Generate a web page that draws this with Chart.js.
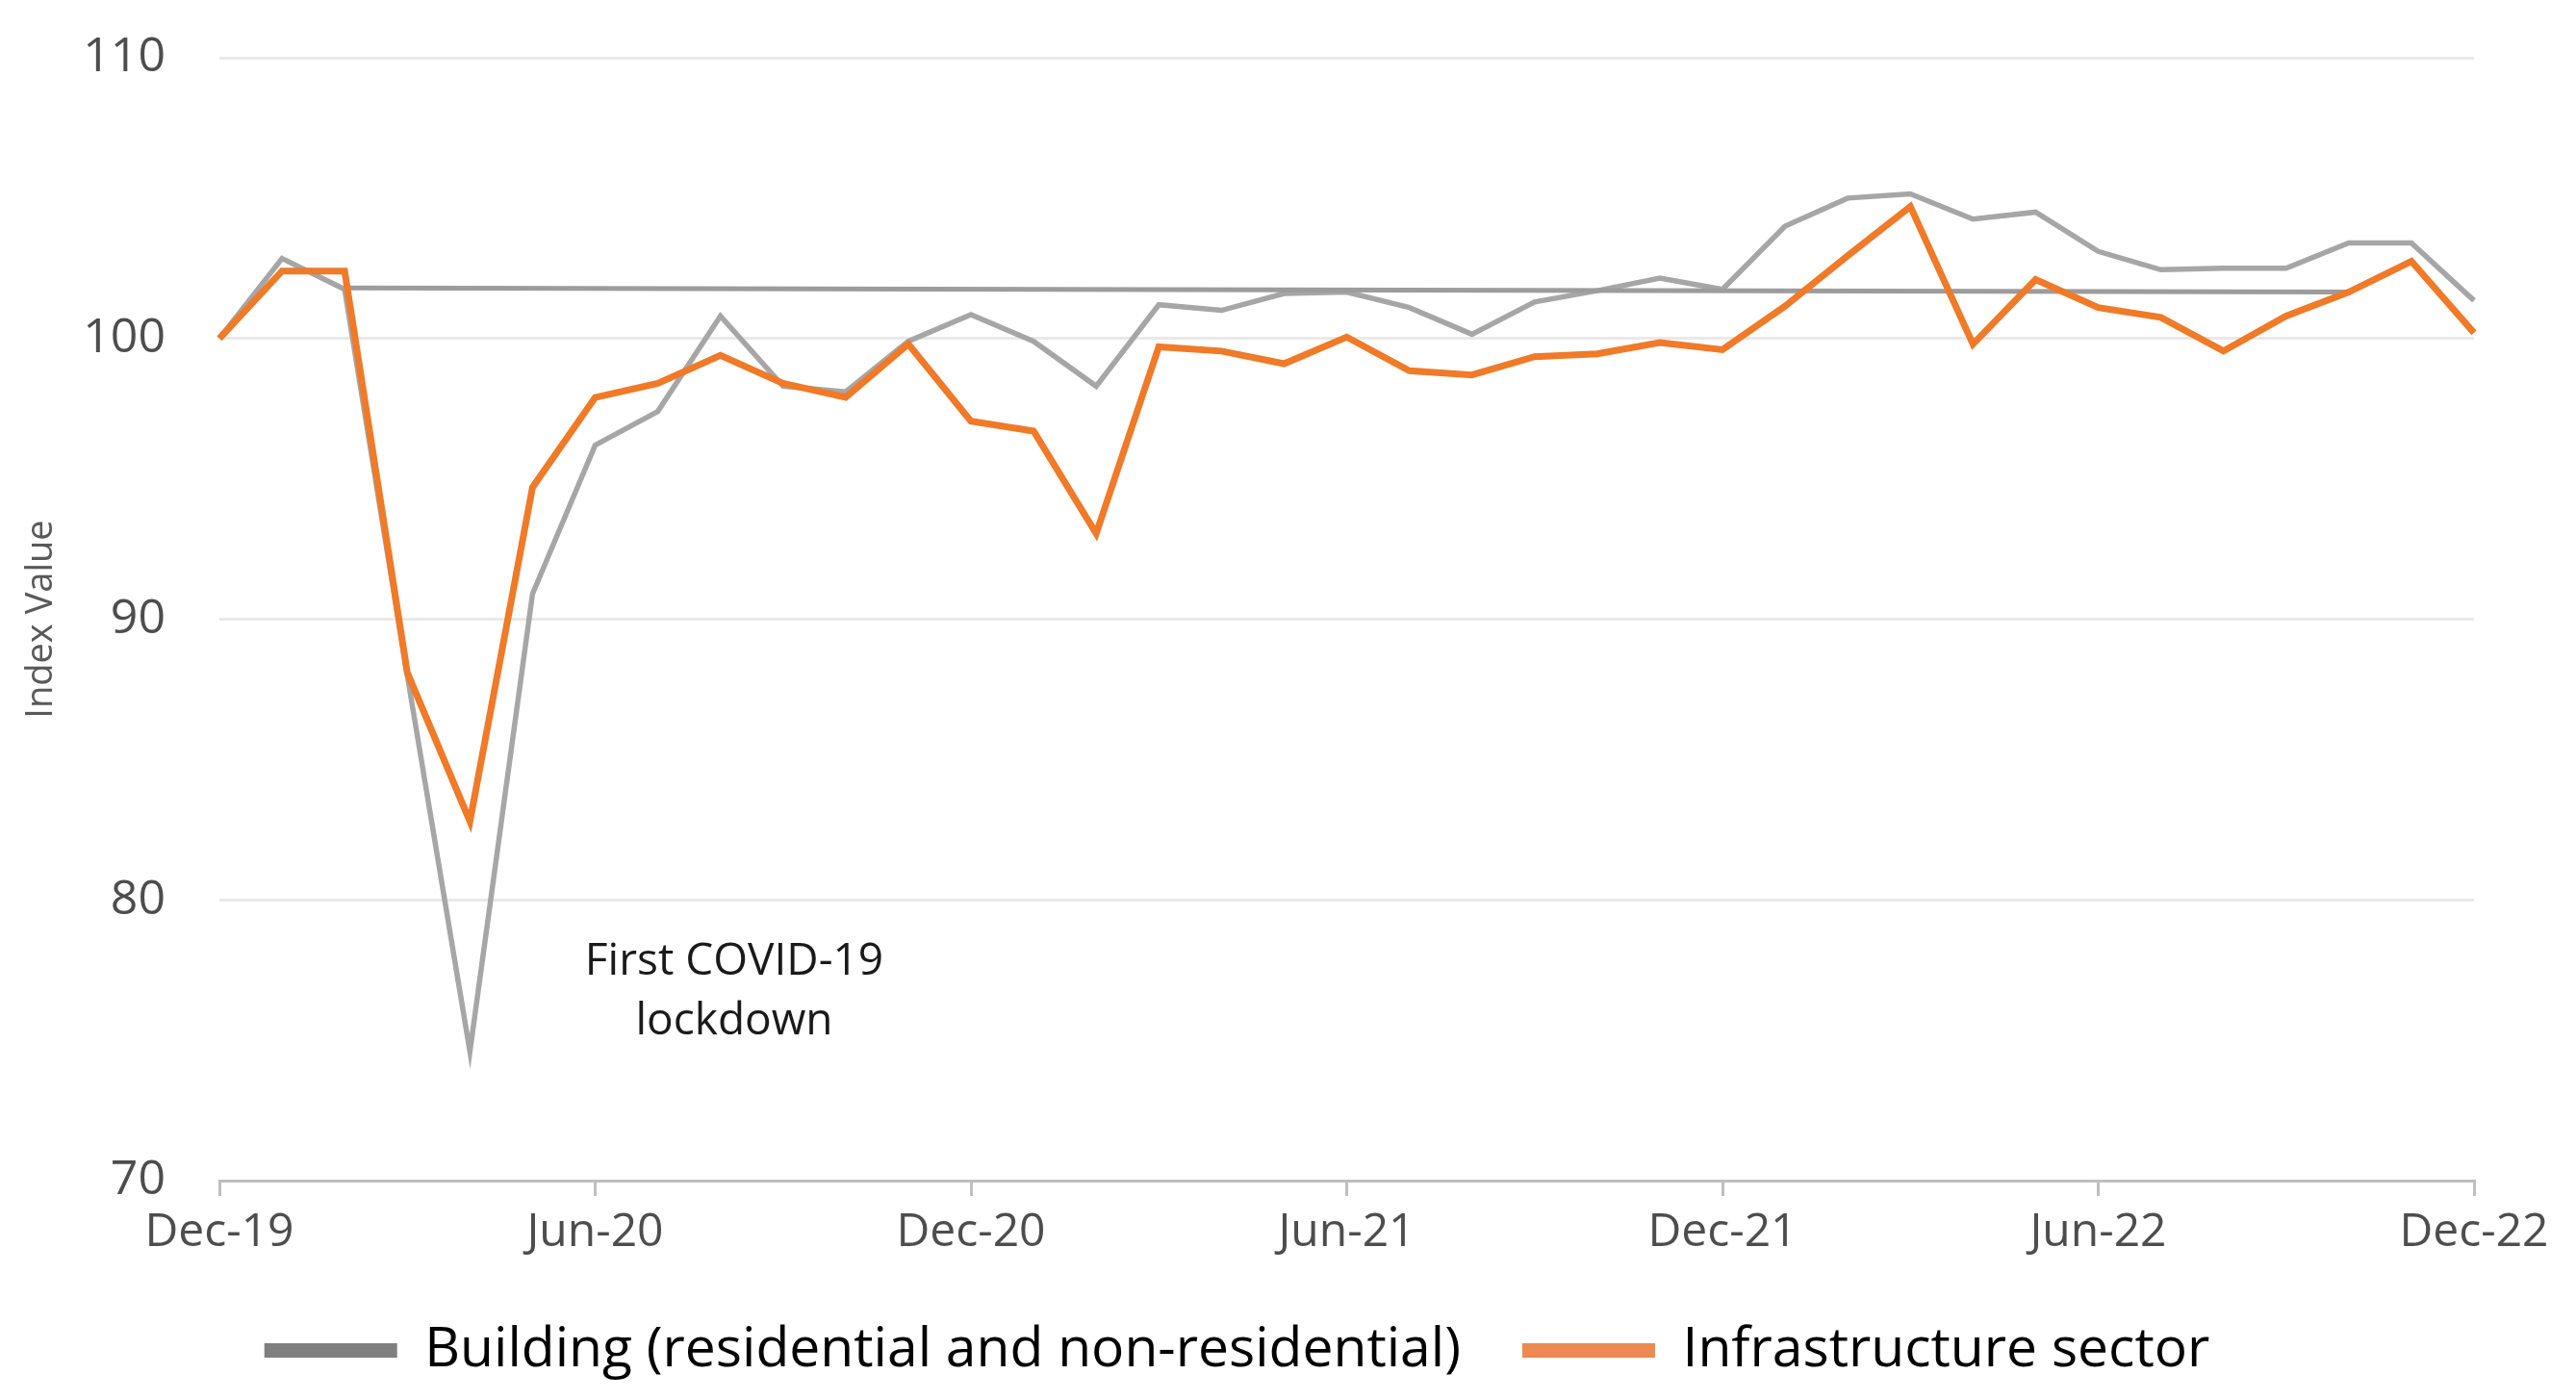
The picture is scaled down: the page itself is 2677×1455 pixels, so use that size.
<!DOCTYPE html>
<html>
<head>
<meta charset="utf-8">
<title>Building and infrastructure index</title>
<script src="https://cdn.jsdelivr.net/npm/chart.js@4.4.1/dist/chart.umd.min.js"></script>
<style>
  html, body { margin: 0; padding: 0; background: #fff; overflow: hidden; }
  #wrap { width: 2677px; height: 1455px; }
</style>
</head>
<body>
<div id="wrap"><canvas id="grafico"></canvas></div>
<script>
// Meses (eje X)
const meses = ['Dec-19','Jan-20','Feb-20','Mar-20','Apr-20','May-20','Jun-20','Jul-20','Aug-20','Sep-20','Oct-20','Nov-20',
  'Dec-20','Jan-21','Feb-21','Mar-21','Apr-21','May-21','Jun-21','Jul-21','Aug-21','Sep-21','Oct-21','Nov-21',
  'Dec-21','Jan-22','Feb-22','Mar-22','Apr-22','May-22','Jun-22','Jul-22','Aug-22','Sep-22','Oct-22','Nov-22','Dec-22'];

// Series
const building = [100, 102.85, 101.75, 88, 74.6, 90.9, 96.2, 97.4, 100.8, 98.3, 98.1, 99.9,
  100.85, 99.9, 98.3, 101.2, 101.0, 101.6, 101.65, 101.1, 100.15, 101.3, 101.7, 102.15,
  101.75, 104.0, 105.0, 105.15, 104.25, 104.5, 103.1, 102.45, 102.5, 102.5, 103.4, 103.4, 101.35];

const infraestructura = [100, 102.4, 102.4, 88.1, 82.8, 94.7, 97.9, 98.4, 99.4, 98.4, 97.9, 99.8,
  97.05, 96.7, 93.05, 99.7, 99.55, 99.1, 100.05, 98.85, 98.7, 99.35, 99.45, 99.85,
  99.6, 101.15, 102.95, 104.7, 99.8, 102.1, 101.1, 100.75, 99.55, 100.8, 101.65, 102.75, 100.2];

// Línea plana gris (Feb-20 a Oct-22)
const lineaPlana = [null, null, 101.8, null, null, null, null, null, null, null, null, null,
  null, null, null, null, null, null, null, null, null, null, null, null,
  null, null, null, null, null, null, null, null, null, null, 101.65, null, null];

const etiquetasSeries = ['Building (residential and non-residential)', 'Infrastructure sector'];
const ejeY = { min: 70, max: 110, paso: 10 };
const nota = { texto: ['First COVID-19', 'lockdown'], x: 8.22, y: [77.35, 75.2] };

Chart.defaults.font.family = "'Open Sans', 'Noto Sans', sans-serif";

// Texto de la anotación sobre el gráfico
const notaPlugin = {
  id: 'nota',
  afterDatasetsDraw(chart) {
    const { ctx, scales } = chart;
    ctx.save();
    ctx.font = "46px 'Open Sans', sans-serif";
    ctx.fillStyle = '#1a1a1a';
    ctx.textAlign = 'center';
    ctx.textBaseline = 'alphabetic';
    const x = scales.x.getPixelForValue(nota.x);
    nota.texto.forEach((t, i) => ctx.fillText(t, x, scales.y.getPixelForValue(nota.y[i])));
    ctx.restore();
  }
};

const colorLeyenda = ['#7f7f7f', '#ec8a52'];

new Chart(document.getElementById('grafico').getContext('2d'), {
  type: 'line',
  data: {
    labels: meses,
    datasets: [
      {
        label: etiquetasSeries[0],
        data: building,
        borderColor: '#a6a6a6',
        backgroundColor: '#a6a6a6',
        borderWidth: 5.5,
        pointRadius: 0,
        tension: 0,
        order: 2
      },
      {
        label: etiquetasSeries[1],
        data: infraestructura,
        borderColor: '#f07a28',
        backgroundColor: '#f07a28',
        borderWidth: 7,
        pointRadius: 0,
        tension: 0,
        order: 0
      },
      {
        label: '',
        data: lineaPlana,
        borderColor: '#9c9c9c',
        borderWidth: 5,
        pointRadius: 0,
        spanGaps: true,
        order: 1
      }
    ]
  },
  options: {
    responsive: true,
    maintainAspectRatio: false,
    devicePixelRatio: 1,
    animation: false,
    layout: { padding: { top: 60, right: 106, bottom: 15, left: 0 } },
    plugins: {
      tooltip: { enabled: false },
      legend: {
        position: 'bottom',
        maxHeight: 129,
        labels: {
          boxWidth: 138,
          boxHeight: 15,
          padding: 64,
          color: '#000',
          font: { size: 57 },
          sort: (a, b) => a.datasetIndex - b.datasetIndex,
          filter: item => item.text !== '',
          generateLabels(chart) {
            const items = Chart.defaults.plugins.legend.labels.generateLabels(chart);
            return items.map(it => Object.assign(it, {
              fillStyle: colorLeyenda[it.datasetIndex] || it.fillStyle,
              strokeStyle: colorLeyenda[it.datasetIndex] || it.strokeStyle,
              lineWidth: 0
            }));
          }
        }
      }
    },
    scales: {
      x: {
        afterFit(scale) { scale.height = 84; },
        afterBuildTicks(scale) { scale.ticks = scale.ticks.filter(t => t.value % 6 === 0); },
        grid: { drawOnChartArea: false, drawTicks: true, tickLength: 16, tickColor: '#bfbfbf', lineWidth: 3 },
        border: { display: true, color: '#bfbfbf', width: 3 },
        ticks: { autoSkip: false, maxRotation: 0, padding: 10, color: '#4d4d4d', font: { size: 48 } }
      },
      y: {
        min: ejeY.min,
        max: ejeY.max,
        afterFit(scale) { scale.width = 228; },
        // marca de 56 px invisible para separar los números del área
        grid: { color: '#e9e9e9', lineWidth: 3, drawTicks: true, tickLength: 56, tickColor: 'rgba(0,0,0,0)' },
        border: { display: false },
        ticks: { stepSize: ejeY.paso, padding: 0, color: '#4d4d4d', font: { size: 50 } },
        title: { display: true, text: 'Index Value', color: '#595959', font: { size: 38 }, padding: { top: 20 } }
      }
    }
  },
  plugins: [notaPlugin]
});
</script>
</body>
</html>
